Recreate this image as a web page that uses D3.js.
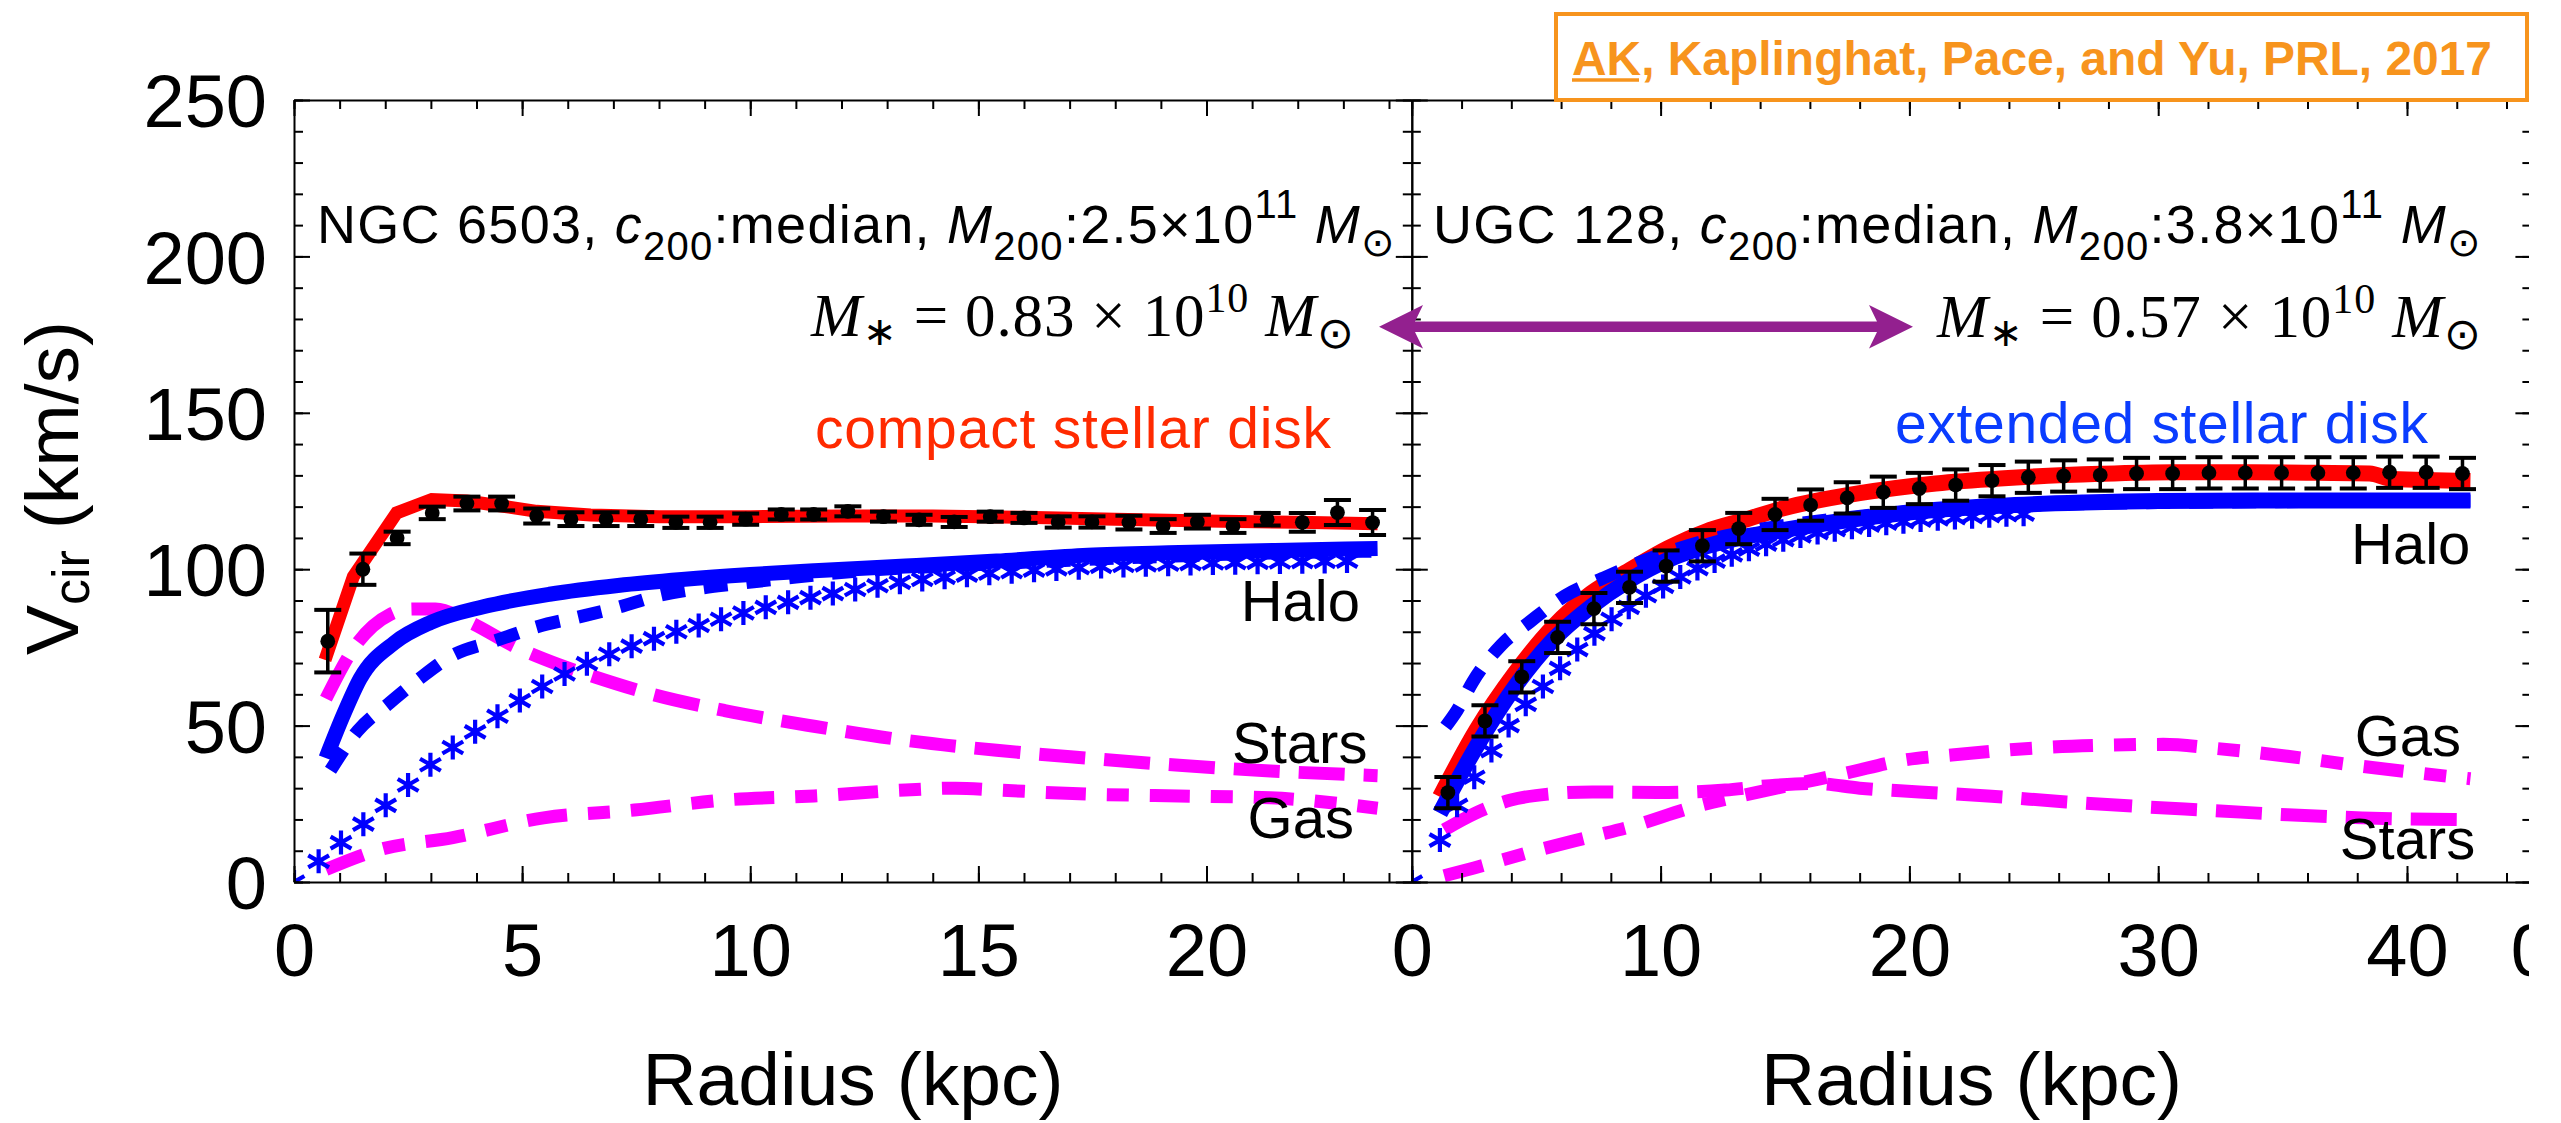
<!DOCTYPE html>
<html>
<head>
<meta charset="utf-8">
<title>Rotation curves: NGC 6503 and UGC 128</title>
<script src="https://cdn.jsdelivr.net/npm/d3@7"></script>
<style>
  body { margin: 0; background: #fff; }
  svg { display: block; }
</style>
</head>
<body>
<svg id="chart"></svg>
<script>
const SANS = "'Liberation Sans', Arial, Helvetica, sans-serif";
const SERIF = "'Liberation Serif', 'Times New Roman', serif";

// ---- NGC 6503 (left panel) ----
const ngcDataR = [0.74, 1.51, 2.26, 3.03, 3.79, 4.55, 5.32, 6.07, 6.84, 7.60, 8.37, 9.12, 9.90, 10.68, 11.39, 12.14, 12.92, 13.70, 14.47, 15.26, 16.00, 16.75, 17.49, 18.30, 19.05, 19.80, 20.58, 21.33, 22.10, 22.87, 23.64];
const ngcDataV = [77, 100, 110, 118, 121, 121, 117, 116, 116, 116, 115, 115, 116, 117.5, 117.5, 118.5, 116.8, 115.8, 115.1, 116.8, 116.4, 115.1, 115.1, 114.9, 113.8, 115.2, 113.8, 116.0, 115.0, 118.1, 114.9];
const ngcDataErr = [10, 5, 2, 2, 2.2, 2.2, 2.4, 2.2, 2.2, 2.2, 1.8, 1.8, 1.8, 1.6, 1.6, 1.6, 1.6, 1.6, 1.6, 1.6, 1.6, 1.8, 1.8, 2.2, 2.2, 2.2, 2.2, 2, 3, 4, 4];

const ngcTotalR = [0.68, 1.30, 2.25, 3.02, 3.79, 4.55, 5.32, 6.5, 8, 10, 12, 14, 16, 18, 20, 22, 23.75];
const ngcTotalV = [71, 97.6, 118, 122.3, 121.8, 120.2, 118.5, 117.3, 116.8, 116.8, 117, 117, 116.6, 116, 115.4, 115, 114.5];

const ngcHaloR = [0.7, 1.1, 1.45, 2.2, 3.0, 4.15, 5.6, 7.1, 8.5, 10, 11.4, 13.4, 15.4, 17.4, 19.4, 21.5, 23.75];
const ngcHaloV = [39.6, 54, 65, 76.5, 83, 88, 92, 94.8, 96.7, 98.3, 99.5, 101, 102.6, 104.5, 105.3, 106, 106.6];

const ngcHaloDashR = [0.8, 1.4, 2.1, 2.75, 3.42, 4.45, 5.35, 6.2, 7.1, 8.0, 8.9, 9.8, 11, 12.5, 15, 18, 21, 23.75];
const ngcHaloDashV = [35.7, 48.4, 57.3, 65, 72, 77.3, 81.7, 84.6, 87.8, 91.6, 93.9, 95.5, 97.5, 99.6, 101.5, 103.5, 105, 105.8];

const ngcHaloStarR = [0, 0.54, 1.03, 1.52, 2.01, 2.50, 2.99, 3.48, 3.97, 4.46, 4.95, 5.44, 5.93, 6.42, 6.91, 7.40, 7.89, 8.38, 8.87, 9.36, 9.85, 10.34, 10.83, 11.32, 11.81, 12.30, 12.79, 13.28, 13.77, 14.26, 14.75, 15.24, 15.73, 16.22, 16.71, 17.20, 17.69, 18.18, 18.67, 19.16, 19.65, 20.14, 20.63, 21.12, 21.61, 22.10, 22.59, 23.08];
const ngcHaloStarV = [0, 6.6, 12.6, 18.5, 24.5, 31, 37.5, 43, 48, 53, 58, 62.5, 66.5, 69.8, 72.8, 75.4, 77.8, 80, 82, 84, 86, 87.8, 89.4, 90.9, 92.2, 93.5, 94.7, 95.8, 96.7, 97.4, 98.1, 98.7, 99.2, 99.7, 100.1, 100.5, 100.9, 101.2, 101.4, 101.6, 101.8, 102.0, 102.1, 102.2, 102.3, 102.4, 102.5, 102.6];

const ngcStarsR = [0.7, 1.37, 2.1, 2.6, 3.1, 3.86, 4.81, 5.8, 6.5, 7.85, 9.44, 11.43, 13.4, 15.4, 17.4, 19.4, 21.4, 23.75];
const ngcStarsV = [58.6, 76, 85.5, 87.3, 87.3, 83, 75.5, 69.5, 66, 60, 54.8, 49.7, 45.3, 42.1, 39.6, 37.3, 35.5, 34];

const ngcGasR = [0.7, 1.89, 3.48, 5.47, 7.46, 9.44, 11.4, 13.4, 14.5, 15.4, 17.4, 19.4, 21.4, 23.75];
const ngcGasV = [4, 10.4, 14.2, 20.5, 23, 26.2, 27.5, 29.4, 30, 29.4, 28.1, 27.5, 26.9, 23.6];

// ---- UGC 128 (right panel) ----
const ugcDataR = [1.45, 2.94, 4.42, 5.86, 7.32, 8.75, 10.22, 11.68, 13.14, 14.60, 16.03, 17.50, 18.95, 20.40, 21.86, 23.32, 24.78, 26.20, 27.67, 29.13, 30.58, 32.04, 33.50, 34.96, 36.42, 37.84, 39.30, 40.77, 42.23];
const ugcDataV = [28.6, 51.5, 65.6, 78.2, 87.4, 94.2, 101, 107.5, 113, 117.5, 120.5, 122.8, 124.6, 125.8, 126.9, 128.3, 129.4, 129.8, 130.1, 130.6, 130.6, 130.8, 130.8, 130.8, 130.8, 130.8, 131, 131, 130.6];
const ugcDataErr = [5, 5, 5, 5, 5, 5, 5, 5, 5, 5, 5, 5, 5, 5, 5, 5, 5, 5, 5, 5, 5, 5, 5, 5, 5, 5, 5, 5, 5];

const ugcTotalR = [1.13, 2.6, 4.14, 5.68, 7.21, 8.75, 10.3, 11.8, 13.36, 14.9, 18, 21.06, 23.64, 27.7, 30.6, 33.5, 36.4, 38.5, 39.4, 42.55];
const ugcTotalV = [27.2, 48.6, 66.7, 81.6, 92.3, 99.7, 106.7, 112, 115.7, 119.4, 124.3, 127.4, 129, 130.5, 131, 131, 130.8, 130.6, 128.8, 128.2];

const ugcHaloR = [1.13, 2.6, 4.14, 5.68, 7.2, 8.75, 10.3, 11.8, 13.4, 14.9, 18, 21, 23.6, 27, 30, 35, 42.55];
const ugcHaloV = [22, 43.3, 62.4, 77.4, 88, 96.5, 103, 107.2, 110.4, 112.5, 116.2, 118.9, 120.3, 121.3, 121.8, 122, 122];

const ugcHaloDashR = [1.36, 1.83, 2.45, 3.6, 4.75, 6.14, 7.68, 9.14, 10.3, 12, 14, 17, 20, 24, 30, 42.55];
const ugcHaloDashV = [49.7, 55, 64, 75.8, 83.2, 91.4, 97.1, 102.1, 105.5, 109.5, 112.8, 116, 118.4, 120.2, 121.3, 121.8];

const ugcHaloStarR = [0, 1.13, 1.82, 2.51, 3.20, 3.89, 4.58, 5.27, 5.96, 6.65, 7.34, 8.03, 8.72, 9.41, 10.10, 10.79, 11.48, 12.17, 12.86, 13.55, 14.24, 14.93, 15.62, 16.31, 17.00, 17.69, 18.38, 19.07, 19.76, 20.45, 21.14, 21.83, 22.52, 23.21, 23.90, 24.59];
const ugcHaloStarV = [0, 13.4, 24.5, 33.5, 42, 50, 56.8, 62.5, 68.3, 74.3, 79.4, 84, 87.8, 91.5, 94.5, 97.5, 100.2, 102.6, 104.6, 106.4, 108, 109.4, 110.6, 111.7, 112.6, 113.4, 114.1, 114.7, 115.2, 115.7, 116.1, 116.5, 116.8, 117.1, 117.4, 117.6];

const ugcStarsR = [1.31, 2.5, 3.98, 5.47, 7.26, 9.93, 12.6, 14.4, 16.2, 18, 20.4, 23.3, 26.3, 29.3, 32.3, 35.2, 38.2, 42.55];
const ugcStarsV = [16.7, 21.8, 26.2, 28.1, 28.8, 28.6, 29.4, 30.8, 31.5, 30, 28.8, 27.4, 25.6, 24.1, 22.8, 21.5, 20.5, 19.9];

const ugcGasR = [1.3, 2.5, 4.6, 7.2, 8.8, 11.4, 13.1, 15.7, 17.4, 19.8, 21.7, 24.8, 27.8, 30.2, 32.3, 35.2, 38.2, 42.55];
const ugcGasV = [2, 4.5, 9.2, 14.5, 17.7, 24.1, 27.3, 31.8, 34.7, 39, 40.6, 42.7, 43.7, 44, 42.7, 40.2, 37, 33];

// ---- ticks ----
const yTickValues = [0, 50, 100, 150, 200, 250];
const ngcTickValues = [0, 5, 10, 15, 20];
const ugcTickValues = [0, 10, 20, 30, 40];

const width = 2561, height = 1123;
const svg = d3.select('#chart').attr('width', width).attr('height', height);

const y = d3.scaleLinear().domain([0, 250]).range([882, 100]);
const xLeft = d3.scaleLinear().domain([0, 24.5]).range([294, 1411.8]);
const xRight = d3.scaleLinear().domain([0, 45]).range([1411.8, 2531.4]);

const RED = '#ff0000', BLUE = '#0000ff', MAGENTA = '#ff00ff';

const defs = svg.append('defs');
// the right figure is cut off just before its right frame
defs.append('clipPath').attr('id', 'rightCut')
  .append('rect').attr('x', 1360).attr('y', 0).attr('width', 2529 - 1360).attr('height', height);

function styleAxis(sel) {
  sel.attr('font-family', SANS).attr('font-size', 74).attr('fill', '#000');
  sel.selectAll('.domain').attr('stroke', '#000').attr('stroke-width', 2);
  sel.selectAll('.tick line').attr('stroke', '#000').attr('stroke-width', 2);
  sel.selectAll('.tick text').attr('fill', '#000');
}

function drawFrame(g, x, majors, minorStep, yLabels) {
  const [d0, d1] = x.domain();
  const minors = d3.range(d0, d1 + 1e-6, minorStep);
  const yMinors = d3.range(0, 251, 10);
  const x1 = x.range()[1];

  // bottom
  g.append('g').attr('transform', `translate(0,${y(0)})`)
    .call(d3.axisBottom(x).tickValues(minors).tickSize(-9).tickFormat(''))
    .call(s => s.select('.domain').remove()).call(styleAxis);
  g.append('g').attr('transform', `translate(0,${y(0)})`)
    .call(d3.axisBottom(x).tickValues(majors).tickSizeInner(-16).tickSizeOuter(0).tickPadding(41))
    .call(styleAxis);
  // top
  g.append('g').attr('transform', `translate(0,${y(250)})`)
    .call(d3.axisTop(x).tickValues(minors).tickSize(-9).tickFormat(''))
    .call(s => s.select('.domain').remove()).call(styleAxis);
  g.append('g').attr('transform', `translate(0,${y(250)})`)
    .call(d3.axisTop(x).tickValues(majors).tickSizeInner(-16).tickSizeOuter(0).tickFormat(''))
    .call(styleAxis);
  // left
  g.append('g').attr('transform', `translate(${x.range()[0]},0)`)
    .call(d3.axisLeft(y).tickValues(yMinors).tickSize(-9).tickFormat(''))
    .call(s => s.select('.domain').remove()).call(styleAxis);
  const left = g.append('g').attr('transform', `translate(${x.range()[0]},0)`)
    .call(d3.axisLeft(y).tickValues(yTickValues).tickSizeInner(-16).tickSizeOuter(0).tickPadding(27)
      .tickFormat(yLabels ? d3.format('d') : ''))
    .call(styleAxis);
  left.selectAll('.tick text').attr('dy', '0.36em');
  // right
  g.append('g').attr('transform', `translate(${x1},0)`)
    .call(d3.axisRight(y).tickValues(yMinors).tickSize(-9).tickFormat(''))
    .call(s => s.select('.domain').remove()).call(styleAxis);
  g.append('g').attr('transform', `translate(${x1},0)`)
    .call(d3.axisRight(y).tickValues(yTickValues).tickSizeInner(-16).tickSizeOuter(0).tickFormat(''))
    .call(styleAxis);
}

function asterisk(s) {
  const a = s * Math.cos(Math.PI / 6), b = s * 0.5;
  return `M0,${-s}V${s}M${-a},${-b}L${a},${b}M${-a},${b}L${a},${-b}`;
}

function drawSeries(g, x, clipId, S) {
  const x0 = x.range()[0], x1 = Math.min(x.range()[1], 2529);
  defs.append('clipPath').attr('id', clipId)
    .append('rect').attr('x', x0).attr('y', y(250)).attr('width', x1 - x0).attr('height', y(0) - y(250));

  const plot = g.append('g').attr('clip-path', `url(#${clipId})`);
  const smooth = d3.line().x(d => x(d[0])).y(d => y(d[1])).curve(d3.curveMonotoneX);
  const straight = d3.line().x(d => x(d[0])).y(d => y(d[1]));

  const path = (pts, gen, color, w, dash) => plot.append('path')
    .datum(pts).attr('d', gen).attr('fill', 'none')
    .attr('stroke', color).attr('stroke-width', w)
    .attr('stroke-dasharray', dash || null);

  path(d3.zip(S.starsR, S.starsV), smooth, MAGENTA, 13, '46,19');
  path(d3.zip(S.gasR, S.gasV), smooth, MAGENTA, 13, '40,21,22,21');
  path(d3.zip(S.totalR, S.totalV), S.totalLinear ? straight : smooth, RED, S.redW);
  path(d3.zip(S.haloR, S.haloV), smooth, BLUE, S.blueW);
  path(d3.zip(S.dashR, S.dashV), smooth, BLUE, 13, '24,19');

  plot.append('g').selectAll('path')
    .data(d3.zip(S.starR, S.starV)).join('path')
    .attr('transform', d => `translate(${x(d[0])},${y(d[1])})`)
    .attr('d', asterisk(12)).attr('fill', 'none')
    .attr('stroke', BLUE).attr('stroke-width', 4.2);

  const obs = d3.zip(S.dataR, S.dataV, S.dataErr);
  const bars = plot.append('g').attr('stroke', '#000');
  bars.selectAll('line.v').data(obs).join('line').attr('class', 'v')
    .attr('x1', d => x(d[0])).attr('x2', d => x(d[0]))
    .attr('y1', d => y(d[1] - d[2])).attr('y2', d => y(d[1] + d[2]))
    .attr('stroke-width', 3.5);
  [-1, 1].forEach(sgn => {
    bars.selectAll(null).data(obs).join('line')
      .attr('x1', d => x(d[0]) - 13.5).attr('x2', d => x(d[0]) + 13.5)
      .attr('y1', d => y(d[1] + sgn * d[2])).attr('y2', d => y(d[1] + sgn * d[2]))
      .attr('stroke-width', 4);
  });
  plot.append('g').selectAll('circle').data(obs).join('circle')
    .attr('cx', d => x(d[0])).attr('cy', d => y(d[1])).attr('r', 7.4).attr('fill', '#000');
}

function richText(g, px, py, parts, o) {
  const t = g.append('text').attr('x', px).attr('y', py)
    .attr('font-family', o.family).attr('font-size', o.size).attr('fill', o.fill || '#000');
  let shift = 0;
  parts.forEach(p => {
    const s = t.append('tspan').text(p.t);
    const target = p.shift || 0;
    if (target !== shift) { s.attr('dy', target - shift); shift = target; }
    if (p.size) s.attr('font-size', p.size);
    if (p.italic) s.attr('font-style', 'italic');
  });
  if (o.length) t.attr('textLength', o.length).attr('lengthAdjust', 'spacing');
  if (o.anchor) t.attr('text-anchor', o.anchor);
  return t;
}

function label(g, px, py, txt, size, fill) {
  return g.append('text').attr('x', px).attr('y', py)
    .attr('font-family', SANS).attr('font-size', size).attr('fill', fill || '#000').text(txt);
}

// ---------- left panel ----------
const leftG = svg.append('g');
drawSeries(leftG, xLeft, 'clipLeft', {
  dataR: ngcDataR, dataV: ngcDataV, dataErr: ngcDataErr,
  totalR: ngcTotalR, totalV: ngcTotalV, totalLinear: true,
  haloR: ngcHaloR, haloV: ngcHaloV, dashR: ngcHaloDashR, dashV: ngcHaloDashV,
  starR: ngcHaloStarR, starV: ngcHaloStarV,
  starsR: ngcStarsR, starsV: ngcStarsV, gasR: ngcGasR, gasV: ngcGasV,
  redW: 13, blueW: 15
});
drawFrame(leftG, xLeft, ngcTickValues, 1, true);

label(leftG, xLeft(20.75), y(83.4), 'Halo', 58);
label(leftG, xLeft(20.56), y(38), 'Stars', 58);
label(leftG, xLeft(20.9), y(14.1), 'Gas', 58);
label(leftG, 815, 448, 'compact stellar disk', 57, '#ff2a00').attr('textLength', 516);

richText(leftG, 317, 243, [
  { t: 'NGC 6503, ' }, { t: 'c', italic: true }, { t: '200', size: 40, shift: 17 },
  { t: ':median, ' }, { t: 'M', italic: true }, { t: '200', size: 40, shift: 17 },
  { t: ':2.5×10' }, { t: '11', size: 40, shift: -25 }, { t: ' ' },
  { t: 'M', italic: true }, { t: '⊙', size: 40, shift: 13 }
], { family: SANS, size: 54, length: 1078 });

richText(leftG, 811, 336, [
  { t: 'M', italic: true }, { t: '∗', size: 40, shift: 9 }, { t: ' = 0.83 × 10' },
  { t: '10', size: 42, shift: -24 }, { t: ' ' }, { t: 'M', italic: true },
  { t: '⊙', size: 44, shift: 12 }
], { family: SERIF, size: 61, length: 543 });

leftG.append('text')
  .attr('x', (xLeft.range()[0] + xLeft.range()[1]) / 2).attr('y', 1105)
  .attr('text-anchor', 'middle').attr('font-family', SANS).attr('font-size', 75)
  .text('Radius (kpc)');

richText(svg.append('g').attr('transform', `translate(78,${(y(0) + y(250)) / 2 - 3}) rotate(-90)`), 0, 0, [
  { t: 'V' }, { t: 'cir', size: 52, shift: 11 }, { t: ' (km/s)' }
], { family: SANS, size: 75, anchor: 'middle' });

// ---------- right panel ----------
const rightG = svg.append('g').attr('clip-path', 'url(#rightCut)');
drawSeries(rightG, xRight, 'clipRight', {
  dataR: ugcDataR, dataV: ugcDataV, dataErr: ugcDataErr,
  totalR: ugcTotalR, totalV: ugcTotalV, totalLinear: false,
  haloR: ugcHaloR, haloV: ugcHaloV, dashR: ugcHaloDashR, dashV: ugcHaloDashV,
  starR: ugcHaloStarR, starV: ugcHaloStarV,
  starsR: ugcStarsR, starsV: ugcStarsV, gasR: ugcGasR, gasV: ugcGasV,
  redW: 16, blueW: 16
});
drawFrame(rightG, xRight, ugcTickValues, 2, false);

// first label of the next (cut off) panel
rightG.append('text').attr('x', xRight(45)).attr('y', y(0) + 41)
  .attr('dy', '0.71em').attr('text-anchor', 'middle')
  .attr('font-family', SANS).attr('font-size', 74).text('0');

label(rightG, xRight(37.75), y(101.8), 'Halo', 58);
label(rightG, xRight(37.9), y(40.2), 'Gas', 58);
label(rightG, xRight(37.3), y(7.2), 'Stars', 58);
label(rightG, 1895, 443, 'extended stellar disk', 57, '#0a3cff').attr('textLength', 533);

richText(rightG, 1433, 243, [
  { t: 'UGC 128, ' }, { t: 'c', italic: true }, { t: '200', size: 40, shift: 17 },
  { t: ':median, ' }, { t: 'M', italic: true }, { t: '200', size: 40, shift: 17 },
  { t: ':3.8×10' }, { t: '11', size: 40, shift: -25 }, { t: ' ' },
  { t: 'M', italic: true }, { t: '⊙', size: 40, shift: 13 }
], { family: SANS, size: 54, length: 1048 });

richText(rightG, 1937, 337, [
  { t: 'M', italic: true }, { t: '∗', size: 40, shift: 9 }, { t: ' = 0.57 × 10' },
  { t: '10', size: 42, shift: -24 }, { t: ' ' }, { t: 'M', italic: true },
  { t: '⊙', size: 44, shift: 12 }
], { family: SERIF, size: 61, length: 544 });

rightG.append('text')
  .attr('x', (xRight.range()[0] + xRight.range()[1]) / 2).attr('y', 1105)
  .attr('text-anchor', 'middle').attr('font-family', SANS).attr('font-size', 75)
  .text('Radius (kpc)');

// ---------- double arrow between the two stellar masses ----------
const ax0 = 1379, ax1 = 1913, ay = 326.7, hl = 44, hw = 21.7, sw = 5.3, notch = 8;
svg.append('path')
  .attr('d', `M${ax0},${ay}L${ax0 + hl},${ay - hw}L${ax0 + hl - notch},${ay - sw}` +
    `L${ax1 - hl + notch},${ay - sw}L${ax1 - hl},${ay - hw}L${ax1},${ay}L${ax1 - hl},${ay + hw}` +
    `L${ax1 - hl + notch},${ay + sw}L${ax0 + hl - notch},${ay + sw}L${ax0 + hl},${ay + hw}Z`)
  .attr('fill', '#93208f');

// ---------- citation box ----------
const ORANGE = '#f7941d';
svg.append('rect').attr('x', 1556).attr('y', 14).attr('width', 971).attr('height', 86)
  .attr('fill', '#fff').attr('stroke', ORANGE).attr('stroke-width', 4);
svg.append('text').attr('x', 1572).attr('y', 75)
  .attr('font-family', SANS).attr('font-weight', 'bold').attr('font-size', 48)
  .attr('fill', ORANGE).attr('textLength', 920).attr('lengthAdjust', 'spacingAndGlyphs')
  .text('AK, Kaplinghat, Pace, and Yu, PRL, 2017');
svg.append('line').attr('x1', 1572).attr('x2', 1639).attr('y1', 80).attr('y2', 80)
  .attr('stroke', ORANGE).attr('stroke-width', 3.5);
</script>
</body>
</html>
